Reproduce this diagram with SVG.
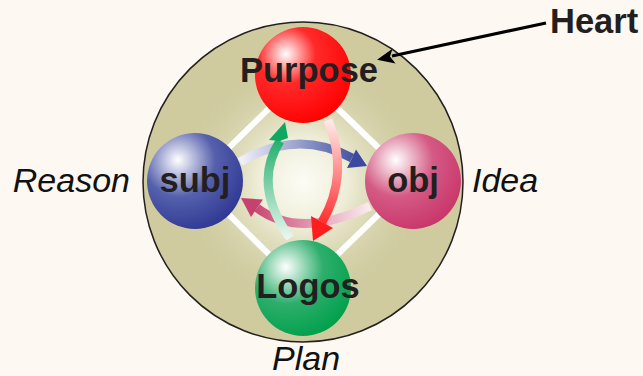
<svg xmlns="http://www.w3.org/2000/svg" width="643" height="376" viewBox="0 0 643 376">
<defs>
<radialGradient id="glow" cx="303" cy="182" r="125" gradientUnits="userSpaceOnUse">
<stop offset="0" stop-color="#fcfcf6"/>
<stop offset="0.35" stop-color="#efeed9"/>
<stop offset="1" stop-color="#cfcb9f" stop-opacity="0"/>
</radialGradient>
<radialGradient id="gRed" cx="0.35" cy="0.3" r="0.75" fx="0.32" fy="0.28">
<stop offset="0" stop-color="#ffffff"/>
<stop offset="0.4" stop-color="#ff2a2a"/>
<stop offset="1" stop-color="#ff0000"/>
</radialGradient>
<radialGradient id="gBlue" cx="0.35" cy="0.3" r="0.75" fx="0.32" fy="0.28">
<stop offset="0" stop-color="#ffffff"/>
<stop offset="0.5" stop-color="#5560ad"/>
<stop offset="1" stop-color="#2f3893"/>
</radialGradient>
<radialGradient id="gPink" cx="0.35" cy="0.3" r="0.75" fx="0.32" fy="0.28">
<stop offset="0" stop-color="#ffffff"/>
<stop offset="0.5" stop-color="#d45a84"/>
<stop offset="1" stop-color="#c9356a"/>
</radialGradient>
<radialGradient id="gGreen" cx="0.35" cy="0.3" r="0.75" fx="0.32" fy="0.28">
<stop offset="0" stop-color="#ffffff"/>
<stop offset="0.5" stop-color="#2eae6c"/>
<stop offset="1" stop-color="#00a04c"/>
</radialGradient>
<linearGradient id="aBlue" x1="240" y1="160" x2="360" y2="160" gradientUnits="userSpaceOnUse">
<stop offset="0" stop-color="#f2f2f8"/>
<stop offset="1" stop-color="#3b4a9e"/>
</linearGradient>
<linearGradient id="aPink" x1="370" y1="206" x2="250" y2="206" gradientUnits="userSpaceOnUse">
<stop offset="0" stop-color="#faecf1"/>
<stop offset="1" stop-color="#c8406e"/>
</linearGradient>
<linearGradient id="aGreen" x1="290" y1="238" x2="284" y2="130" gradientUnits="userSpaceOnUse">
<stop offset="0" stop-color="#eaf7f0"/>
<stop offset="1" stop-color="#10a860"/>
</linearGradient>
<linearGradient id="aRed" x1="328" y1="120" x2="318" y2="232" gradientUnits="userSpaceOnUse">
<stop offset="0" stop-color="#ffeaea"/>
<stop offset="1" stop-color="#ff1e1e"/>
</linearGradient>
</defs>
<style>
.lbl{font-family:"Liberation Sans",Arial,sans-serif;font-weight:bold;font-size:34.5px;fill:#231f20;text-anchor:middle}
.it{font-family:"Liberation Sans",Arial,sans-serif;font-style:italic;font-size:34px;fill:#111}
.band{fill:none;stroke-width:9}
</style>
<rect width="643" height="376" fill="#fdf8f2"/>
<g id="heart">
<circle cx="303" cy="182" r="160" fill="#cfcb9f" stroke="#231f20" stroke-width="1.5"/>
<circle cx="303" cy="182" r="125" fill="url(#glow)"/>
<polygon points="303,75 413,181 303,288 195,181" fill="none" stroke="#ffffff" stroke-width="6"/>
</g>
<g id="connectors">
<path class="band" d="M240,162 Q297,128 352,158" stroke="url(#aBlue)"/>
<polygon points="367,166 347,168 351.7,158.8 356,149.5" fill="#3b4a9e"/>
<path class="band" d="M370,206 Q300,240 257,208" stroke="url(#aPink)"/>
<polygon points="241,198 263,199.5 257,208 251,217" fill="#c8406e"/>
<path class="band" d="M290,238 Q252,185 280,141" stroke="url(#aGreen)"/>
<polygon points="285,122 269,140 280,141 288,138" fill="#10a860"/>
<path class="band" d="M328,120 Q350,175 322,222" stroke="url(#aRed)"/>
<polygon points="313,241 311,216 322,222 333,228" fill="#ff1e1e"/>
<line x1="546" y1="23" x2="392" y2="56" stroke="#000" stroke-width="3.2"/>
<polygon points="377,59.7 395.5,63.5 390,56.5 392.5,48.8" fill="#000"/>
</g>
<g id="purpose">
<circle cx="303" cy="75" r="48" fill="url(#gRed)"/>
<text class="lbl" x="309" y="82">Purpose</text>
</g>
<g id="subj">
<circle cx="195" cy="181" r="48" fill="url(#gBlue)"/>
<text class="lbl" x="195" y="192">subj</text>
</g>
<g id="obj">
<circle cx="413" cy="181" r="48" fill="url(#gPink)"/>
<text class="lbl" x="413" y="192">obj</text>
</g>
<g id="logos">
<circle cx="303" cy="288" r="48" fill="url(#gGreen)"/>
<text class="lbl" x="308" y="298">Logos</text>
</g>
<text class="it" x="130" y="192" text-anchor="end">Reason</text>
<text class="it" x="472" y="192">Idea</text>
<text class="it" x="272" y="370">Plan</text>
<text class="lbl" x="550" y="33" style="text-anchor:start">Heart</text>
</svg>
